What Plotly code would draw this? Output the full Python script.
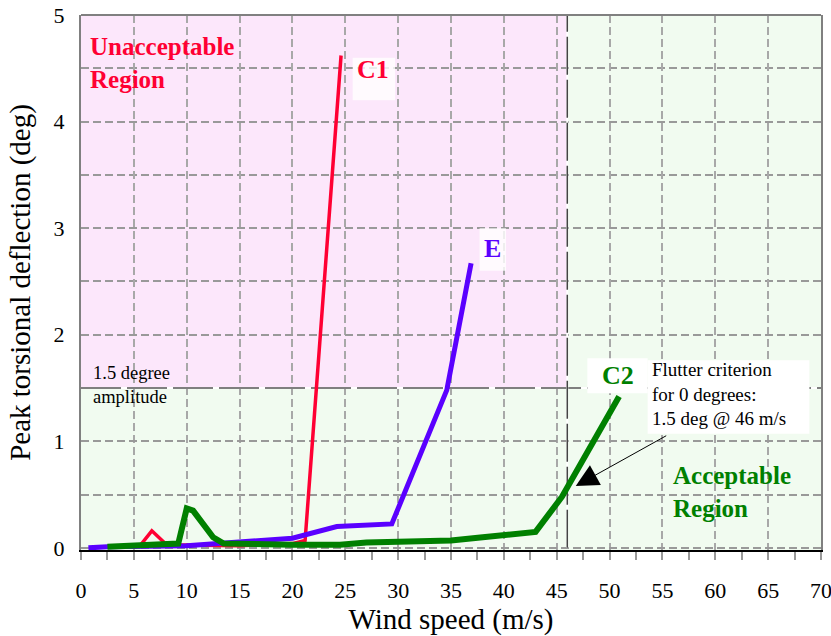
import plotly.graph_objects as go

# ---- data ----
c1_x = [2.5, 5.5, 6.7, 8.1, 15, 20, 21.2, 24.6]
c1_y = [0.01, 0.01, 0.16, 0.03, 0.02, 0.04, 0.07, 4.62]

e_x = [0.7, 2.5, 10, 14.5, 20, 24.2, 29.4, 34.6, 36.9]
e_y = [0.0, 0.01, 0.02, 0.05, 0.09, 0.2, 0.225, 1.48, 2.67]

c2_x = [2.5, 9.2, 10.0, 10.6, 12.5, 13.5, 20, 24.5, 27, 35, 38, 43, 45.5, 50.9]
c2_y = [0.01, 0.04, 0.37, 0.35, 0.1, 0.04, 0.03, 0.03, 0.05, 0.07, 0.1, 0.15, 0.48, 1.42]

x_ticks = [0, 5, 10, 15, 20, 25, 30, 35, 40, 45, 50, 55, 60, 65, 70]
y_ticks = [0, 1, 2, 3, 4, 5]

criterion_speed = 46
criterion_amp = 1.5

SERIF = "Liberation Serif, Times New Roman, serif"
RED = "#ff0033"
PURPLE = "#5a00ff"
GREEN = "#008000"

fig = go.Figure()
fig.add_trace(go.Scatter(x=c1_x, y=c1_y, mode="lines", line=dict(color=RED, width=3.5), name="C1"))
fig.add_trace(go.Scatter(x=e_x, y=e_y, mode="lines", line=dict(color=PURPLE, width=5), name="E"))
fig.add_trace(go.Scatter(x=c2_x, y=c2_y, mode="lines", line=dict(color=GREEN, width=6), name="C2"))

shapes = [
    # region backgrounds
    dict(type="rect", xref="x", yref="y", x0=0, x1=70, y0=-0.1, y1=5, fillcolor="#f1fbf0", line_width=0, layer="below"),
    dict(type="rect", xref="x", yref="y", x0=0, x1=criterion_speed, y0=criterion_amp, y1=5, fillcolor="#fce7fb", line_width=0, layer="below"),
    # criterion lines
    dict(type="line", xref="x", yref="y", x0=0, x1=70, y0=criterion_amp, y1=criterion_amp, line=dict(color="white", width=2), layer="between"),
    dict(type="line", xref="x", yref="y", x0=0, x1=70, y0=criterion_amp, y1=criterion_amp, line=dict(color="#555555", width=1.5, dash="40px,6px"), layer="between"),
    dict(type="line", xref="x", yref="y", x0=criterion_speed, x1=criterion_speed, y0=0, y1=5, line=dict(color="white", width=2), layer="between"),
    dict(type="line", xref="x", yref="y", x0=criterion_speed, x1=criterion_speed, y0=0, y1=5, line=dict(color="#444444", width=1.5, dash="38px,5px"), layer="between"),
    # top border
    dict(type="line", xref="paper", yref="paper", x0=0, x1=1, y0=1, y1=1, line=dict(color="#808080", width=2)),
    # white boxes behind labels
    dict(type="rect", xref="x", yref="y", x0=53.6, x1=68.9, y0=1.07, y1=1.76, fillcolor="white", line_width=0, layer="above"),
    dict(type="rect", xref="x", yref="y", x0=47.9, x1=53.6, y0=1.45, y1=1.78, fillcolor="white", line_width=0, layer="above"),
    dict(type="rect", xref="x", yref="y", x0=25.7, x1=29.7, y0=4.2, y1=4.6, fillcolor="rgba(255,255,255,0.8)", line_width=0, layer="above"),
    dict(type="rect", xref="x", yref="y", x0=37.7, x1=40.2, y0=2.6, y1=3.0, fillcolor="rgba(255,255,255,0.8)", line_width=0, layer="above"),
]

annotations = [
    dict(x=0.66, y=4.55, xref="x", yref="y", text="<b>Unacceptable<br>Region</b>", showarrow=False,
         xanchor="left", yanchor="middle", align="left", font=dict(family=SERIF, size=25, color=RED)),
    dict(x=27.6, y=4.49, xref="x", yref="y", text="<b>C1</b>", showarrow=False,
         font=dict(family=SERIF, size=26, color=RED)),
    dict(x=38.9, y=2.81, xref="x", yref="y", text="<b>E</b>", showarrow=False,
         font=dict(family=SERIF, size=26, color=PURPLE)),
    dict(x=50.8, y=1.62, xref="x", yref="y", text="<b>C2</b>", showarrow=False,
         font=dict(family=SERIF, size=26, color=GREEN)),
    dict(x=53.83, y=1.44, xref="x", yref="y", text="Flutter criterion<br>for 0 degrees:<br>1.5 deg @ 46 m/s",
         showarrow=False, xanchor="left", yanchor="middle", align="left",
         font=dict(family=SERIF, size=19, color="black")),
    dict(x=55.8, y=0.52, xref="x", yref="y", text="<b>Acceptable<br>Region</b>", showarrow=False,
         xanchor="left", yanchor="middle", align="left", font=dict(family=SERIF, size=25, color=GREEN)),
    dict(x=0.95, y=1.524, xref="x", yref="y", text="1.5 degree<br>amplitude", showarrow=False,
         xanchor="left", yanchor="middle", align="left", font=dict(family=SERIF, size=18.5, color="black")),
    dict(x=46.8, y=0.58, xref="x", yref="y", ax=55.5, ay=1.06, axref="x", ayref="y", text="",
         showarrow=True, arrowhead=2, arrowsize=4.5, arrowwidth=1, arrowcolor="black", standoff=0),
]

fig.update_layout(
    width=831, height=636,
    margin=dict(l=81, r=10, t=15, b=86),
    paper_bgcolor="white", plot_bgcolor="white",
    showlegend=False,
    shapes=shapes, annotations=annotations,
    font=dict(family=SERIF, color="black"),
)

fig.update_xaxes(
    range=[0, 70], tickvals=x_ticks, ticktext=[str(v) for v in x_ticks],
    automargin=False, ticklabeloverflow="allow",
    showline=True, linecolor="black", linewidth=1.5,
    ticks="outside", ticklen=8, tickwidth=1.5, tickcolor="#999999",
    minor=dict(dtick=2.5, ticks="outside", ticklen=8, tickwidth=1.5, tickcolor="#999999", showgrid=False),
    showgrid=True, gridcolor="#a8a8a8", gridwidth=1.5, griddash="8px,4px",
    zeroline=False, tickfont=dict(family=SERIF, size=22, color="black"),
    ticklabelstandoff=12,
    title=dict(text="Wind speed (m/s)", font=dict(family=SERIF, size=29, color="black"), standoff=10),
)
fig.update_yaxes(
    range=[-0.02, 5], tickvals=y_ticks, ticktext=[str(v) for v in y_ticks],
    automargin=False, ticklabeloverflow="allow",
    showline=True, linecolor="#808080", linewidth=2, mirror=True,
    ticks="", showgrid=True, gridcolor="#999999", gridwidth=1.5, griddash="8px,4px",
    minor=dict(dtick=0.5, showgrid=True, gridcolor="#999999", gridwidth=1.5, griddash="8px,4px"),
    zeroline=False, tickfont=dict(family=SERIF, size=22, color="black"),
    ticklabelstandoff=10,
    title=dict(text="Peak torsional deflection (deg)", font=dict(family=SERIF, size=29, color="black"), standoff=14),
)

fig.write_html("out.html")
